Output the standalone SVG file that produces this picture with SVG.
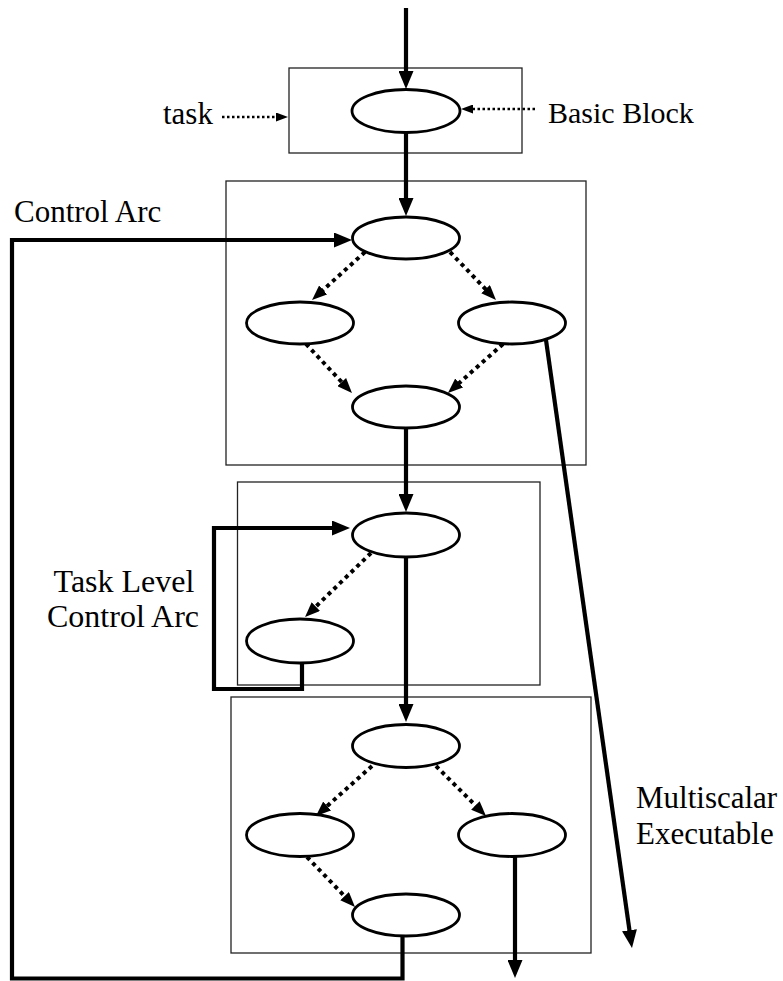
<svg xmlns="http://www.w3.org/2000/svg" width="783" height="981" viewBox="0 0 783 981">
  <style>
    .task { fill: none; stroke: #222; stroke-width: 1.3; }
    .block { fill: #fff; stroke: #000; stroke-width: 2.8; }
    .arc { fill: none; stroke: #000; stroke-width: 4.2; stroke-linejoin: miter; }
    .dep { fill: none; stroke: #000; stroke-width: 4; stroke-dasharray: 4 4; }
    .note { fill: none; stroke: #000; stroke-width: 2.5; stroke-dasharray: 2.5 2.5; }
    .label { font-family: "Liberation Serif", "Times New Roman", serif; font-size: 31px; fill: #000; }
  </style>
  <defs>
    <marker id="headThick" markerUnits="userSpaceOnUse" markerWidth="18" markerHeight="15" refX="1" refY="7.5" orient="auto">
      <path d="M0,0 L18,7.5 L0,15 z" fill="#000"/>
    </marker>
    <marker id="headDep" markerUnits="userSpaceOnUse" markerWidth="15" markerHeight="12" refX="1" refY="6" orient="auto">
      <path d="M0,0 L15,6 L0,12 z" fill="#000"/>
    </marker>
    <marker id="headNote" markerUnits="userSpaceOnUse" markerWidth="12" markerHeight="9" refX="1" refY="4.5" orient="auto">
      <path d="M0,0 L12,4.5 L0,9 z" fill="#000"/>
    </marker>
  </defs>

  <rect width="783" height="981" fill="#fff"/>

  <!-- task boxes -->
  <g id="task1"><rect class="task" x="289" y="68" width="233" height="85"/></g>
  <g id="task2"><rect class="task" x="226" y="181" width="360" height="284"/></g>
  <g id="task3"><rect class="task" x="237.5" y="482" width="302.5" height="203"/></g>
  <g id="task4"><rect class="task" x="231" y="697" width="360" height="256"/></g>

  <!-- connectors -->
  <g id="connectors">
    <!-- control flow between tasks -->
    <line class="arc" x1="406" y1="8" x2="406" y2="72" marker-end="url(#headThick)"/>
    <line class="arc" x1="406" y1="133" x2="406" y2="199" marker-end="url(#headThick)"/>
    <line class="arc" x1="406" y1="428" x2="406" y2="495" marker-end="url(#headThick)"/>
    <line class="arc" x1="406" y1="557" x2="406" y2="705" marker-end="url(#headThick)"/>
    <line class="arc" x1="515" y1="857" x2="515" y2="961" marker-end="url(#headThick)"/>
    <line class="arc" x1="546" y1="340" x2="629.6" y2="931.2" marker-end="url(#headThick)"/>
    <path class="arc" d="M402.5,936 V978.5 H12 V240 H335" marker-end="url(#headThick)"/>
    <path class="arc" d="M302,663 V689 H214 V528 H333" marker-end="url(#headThick)"/>

    <!-- intra-task block edges -->
    <line class="dep" x1="365" y1="252" x2="322.4" y2="290.6" marker-end="url(#headDep)"/>
    <line class="dep" x1="450" y1="252" x2="486.3" y2="289.9" marker-end="url(#headDep)"/>
    <line class="dep" x1="306" y1="344" x2="342.4" y2="382.8" marker-end="url(#headDep)"/>
    <line class="dep" x1="503" y1="344" x2="458.4" y2="383.7" marker-end="url(#headDep)"/>
    <line class="dep" x1="371" y1="553" x2="315.1" y2="607.3" marker-end="url(#headDep)"/>
    <line class="dep" x1="372" y1="766" x2="326.4" y2="806.7" marker-end="url(#headDep)"/>
    <line class="dep" x1="436" y1="766" x2="476.1" y2="806.1" marker-end="url(#headDep)"/>
    <line class="dep" x1="307" y1="857" x2="345.3" y2="896.9" marker-end="url(#headDep)"/>

    <!-- label pointers -->
    <line class="note" x1="222" y1="117" x2="277" y2="117" marker-end="url(#headNote)"/>
    <line class="note" x1="535" y1="109" x2="472" y2="109" marker-end="url(#headNote)"/>
  </g>

  <!-- basic blocks -->
  <g id="bb1"><ellipse class="block" cx="406" cy="111" rx="54" ry="21.5"/></g>
  <g id="bb2"><ellipse class="block" cx="406" cy="238" rx="53.5" ry="21"/></g>
  <g id="bb3"><ellipse class="block" cx="300" cy="323" rx="53.5" ry="21"/></g>
  <g id="bb4"><ellipse class="block" cx="512" cy="323" rx="53.5" ry="21"/></g>
  <g id="bb5"><ellipse class="block" cx="406" cy="407" rx="53.5" ry="21"/></g>
  <g id="bb6"><ellipse class="block" cx="406" cy="535" rx="53.5" ry="22"/></g>
  <g id="bb7"><ellipse class="block" cx="300" cy="641" rx="53.5" ry="22"/></g>
  <g id="bb8"><ellipse class="block" cx="406" cy="746" rx="53.5" ry="21.5"/></g>
  <g id="bb9"><ellipse class="block" cx="300" cy="835" rx="53.5" ry="21.5"/></g>
  <g id="bb10"><ellipse class="block" cx="512" cy="835" rx="53.5" ry="21.5"/></g>
  <g id="bb11"><ellipse class="block" cx="406" cy="915" rx="53.5" ry="21"/></g>

  <!-- labels -->
  <g id="labels">
    <text class="label" x="163" y="124">task</text>
    <text class="label" x="548" y="123" style="font-size:30px">Basic Block</text>
    <text class="label" x="14" y="222">Control Arc</text>
    <text class="label" x="124" y="592" text-anchor="middle" style="font-size:32px">Task Level</text>
    <text class="label" x="123" y="627" text-anchor="middle" style="font-size:32px">Control Arc</text>
    <text class="label" x="636" y="808">Multiscalar</text>
    <text class="label" x="636" y="844">Executable</text>
  </g>
</svg>
